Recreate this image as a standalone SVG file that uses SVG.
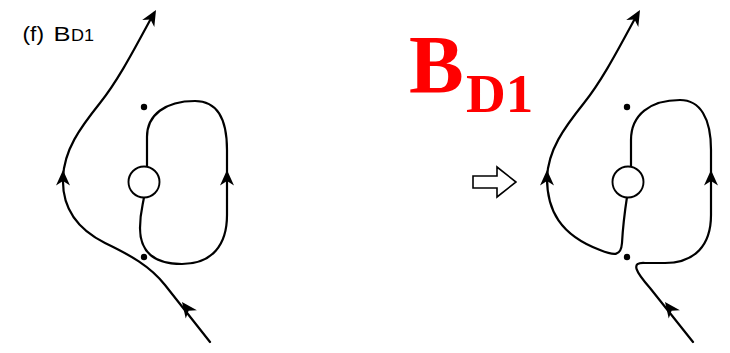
<svg xmlns="http://www.w3.org/2000/svg" xmlns:xlink="http://www.w3.org/1999/xlink" width="730" height="353" viewBox="0 0 730 353">
<style>
.c{fill:none;stroke:#000;stroke-width:2.2;stroke-linecap:round;stroke-linejoin:round}
.hole{fill:#fff;stroke:#000;stroke-width:1.9}
.dot{fill:#000}
.lbl{font-family:"Liberation Sans",Arial,sans-serif;fill:#000}
.red{font-family:"Liberation Serif","Times New Roman",serif;font-weight:bold;fill:#ff0000}
</style>
<defs>
<path id="ah" d="M0,0 L-15.5,-7 L-11,0 L-15.5,7 Z" fill="#000"/>
</defs>
<g id="label-f">
<text class="lbl" x="22.5" y="40.5" font-size="21" textLength="21.5" lengthAdjust="spacingAndGlyphs">(f)</text>
<text class="lbl" x="53.5" y="40.5" font-size="21" textLength="17" lengthAdjust="spacingAndGlyphs">B</text>
<text class="lbl" x="71" y="41" font-size="16" textLength="23" lengthAdjust="spacingAndGlyphs">D1</text>
</g>
<g id="title">
<text class="red" x="409" y="92" font-size="82">B</text>
<text class="red" x="466" y="112" font-size="55">D1</text>
</g>
<g id="transform-arrow">
<path d="M473,176 L497,176 L497,167 L516,182 L497,197 L497,188 L473,188 Z" fill="#fff" stroke="#000" stroke-width="1.6" stroke-linejoin="miter"/>
</g>
<g id="left-panel">
<g id="connectors-left">
<path class="c" d="M210,342 L165,285 C150,266 130,255 105,243 C75,228 62,205 63,178 C64,150 80,128 100,103 C120,78 138,42 154,13"/>
<path class="c" d="M147,166 L147,137 C147,115 165,101 195,101 C218,101 227,120 227,150 L227,215 C227,245 212,264 182,264 C152,264 140,250 140,228 C140,212 143,205 144,197"/>
<use xlink:href="#ah" transform="translate(156,10) rotate(-60)"/>
<use xlink:href="#ah" transform="translate(63,170) rotate(-90)"/>
<use xlink:href="#ah" transform="translate(182,302) rotate(-127)"/>
<use xlink:href="#ah" transform="translate(227,170) rotate(-90)"/>
</g>
<g id="hole-left"><circle class="hole" cx="144" cy="182" r="15.5"/></g>
<g id="dots-left">
<circle class="dot" cx="144" cy="107" r="3.2"/>
<circle class="dot" cx="144" cy="257" r="3.2"/>
</g>
</g>
<g id="right-panel">
<g id="connectors-right">
<path class="c" d="M627,197 C625,210 623,225 622,243 C621,256 615,256 600,250 C560,235 547,210 547,178 C548,150 564,128 584,103 C604,78 622,42 638,13"/>
<path class="c" d="M693,342 L650,288 C636,272 630,262 645,263 L665,263 C695,263 711,245 711,215 L711,150 C711,118 700,100 680,100 C650,100 631,115 631,140 L631,166"/>
<use xlink:href="#ah" transform="translate(640,10) rotate(-60)"/>
<use xlink:href="#ah" transform="translate(547,170) rotate(-90)"/>
<use xlink:href="#ah" transform="translate(665,302) rotate(-127)"/>
<use xlink:href="#ah" transform="translate(711,170) rotate(-90)"/>
</g>
<g id="hole-right"><circle class="hole" cx="628" cy="182" r="15.5"/></g>
<g id="dots-right">
<circle class="dot" cx="627" cy="107" r="3.2"/>
<circle class="dot" cx="627" cy="257" r="3.2"/>
</g>
</g>
</svg>
